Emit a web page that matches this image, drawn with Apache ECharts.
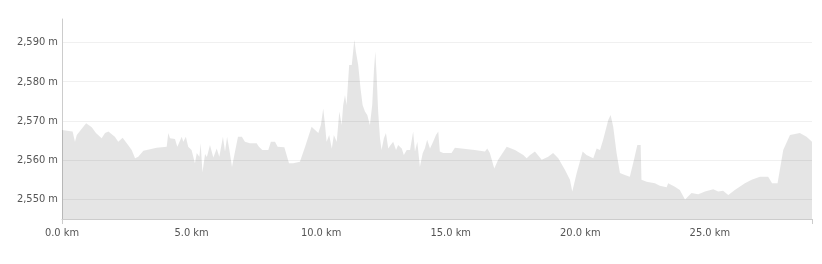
<!DOCTYPE html>
<html>
<head>
<meta charset="utf-8">
<script src="https://cdn.jsdelivr.net/npm/echarts@6/dist/echarts.min.js"></script>
<style>
html,body{margin:0;padding:0;background:#fff;}
#chart{width:822px;height:264px;}
</style>
</head>
<body>
<div id="chart"></div>
<script>
// distance along route (km)
var distanceKm = [
0.00,0.41,0.50,0.57,0.93,1.15,1.31,1.53,1.66,1.79,2.04,2.17,2.34,2.50,2.69,2.82,2.94,3.14,3.65,4.04,
4.10,4.17,4.24,4.36,4.45,4.62,4.68,4.78,4.87,5.00,5.13,5.20,5.30,5.35,5.42,5.52,5.59,5.71,5.84,5.97,
6.07,6.21,6.29,6.37,6.46,6.56,6.67,6.79,6.94,7.06,7.25,7.51,7.60,7.73,7.96,8.06,8.22,8.32,8.58,8.76,
8.92,9.18,9.38,9.63,9.70,9.89,9.99,10.08,10.15,10.21,10.31,10.41,10.49,10.60,10.70,10.79,10.85,10.92,10.98,11.08,
11.18,11.28,11.34,11.43,11.52,11.60,11.69,11.78,11.88,11.97,12.04,12.09,12.14,12.20,12.27,12.33,12.42,12.50,12.59,12.68,
12.78,12.89,12.97,13.11,13.19,13.30,13.43,13.55,13.62,13.71,13.81,13.92,14.00,14.09,14.20,14.32,14.43,14.52,14.58,14.71,
15.03,15.16,15.42,15.93,16.32,16.41,16.51,16.68,16.83,17.16,17.48,17.80,17.93,18.06,18.25,18.51,18.76,18.95,19.15,19.41,
19.60,19.69,19.86,20.09,20.24,20.50,20.63,20.76,20.88,21.08,21.17,21.27,21.40,21.53,21.72,21.91,22.07,22.20,22.33,22.36,
22.56,22.88,23.07,23.33,23.39,23.65,23.84,24.04,24.29,24.55,24.81,25.13,25.32,25.51,25.71,25.96,26.35,26.61,26.93,27.25,
27.40,27.61,27.83,28.09,28.47,28.73,28.94
];
// elevation (m)
var elevationM = [
2567.7,2567.3,2564.7,2566.4,2569.4,2568.4,2566.9,2565.6,2566.9,2567.3,2566.0,2564.7,2565.7,2564.3,2562.6,2560.5,2560.9,2562.4,2563.2,2563.4,
2566.9,2565.6,2565.2,2565.4,2563.4,2566.0,2564.7,2566.0,2563.4,2562.6,2559.2,2561.8,2560.9,2564.3,2556.9,2561.6,2560.8,2563.9,2560.7,2563.0,
2560.9,2566.0,2562.2,2566.0,2562.6,2558.3,2562.0,2566.0,2566.0,2564.7,2564.3,2564.3,2563.4,2562.6,2562.6,2564.7,2564.7,2563.4,2563.3,2559.2,
2559.2,2559.6,2563.4,2568.5,2568.5,2566.9,2569.0,2573.2,2569.0,2564.7,2566.4,2563.0,2566.4,2564.7,2572.4,2569.0,2574.1,2576.6,2574.1,2584.3,
2584.3,2590.7,2587.7,2584.3,2578.3,2574.1,2572.4,2571.5,2569.0,2574.1,2583.4,2587.7,2581.7,2572.4,2565.6,2562.6,2565.6,2566.9,2563.0,2563.9,
2564.7,2562.6,2563.9,2563.0,2561.3,2562.6,2562.6,2567.3,2562.2,2564.7,2558.3,2561.8,2563.0,2565.2,2563.0,2564.7,2566.4,2567.3,2562.2,2561.8,
2561.8,2563.2,2563.0,2562.6,2562.2,2563.0,2561.8,2557.9,2560.1,2563.4,2562.6,2561.3,2560.5,2561.3,2562.2,2560.1,2560.9,2561.8,2560.5,2557.5,
2555.0,2552.0,2556.7,2562.2,2561.3,2560.5,2563.0,2562.6,2565.2,2570.3,2571.5,2568.5,2561.8,2556.7,2556.2,2555.8,2560.1,2563.9,2563.9,2555.0,
2554.5,2554.1,2553.5,2553.1,2554.1,2553.2,2552.4,2550.0,2551.6,2551.3,2552.0,2552.6,2552.0,2552.2,2551.1,2552.4,2554.1,2555.0,2555.8,2555.8,
2554.1,2554.1,2562.6,2566.4,2566.9,2566.0,2564.7
];
var xTickLabels = [0, 5, 10, 15, 20, 25];
var yTickLabels = [2550, 2560, 2570, 2580, 2590];
var yMin = 2545, yMax = 2596;

var seriesData = distanceKm.map(function (d, i) { return [d, elevationM[i]]; });
var xMax = distanceKm[distanceKm.length - 1];
var FONT = '"Liberation Sans Narrow","DejaVu Sans Condensed","Liberation Sans",sans-serif';

var chart = echarts.init(document.getElementById('chart'), null, {renderer: 'canvas'});
chart.setOption({
  animation: false,
  backgroundColor: '#ffffff',
  grid: {left: 62, right: 10, top: 19, bottom: 45, containLabel: false},
  xAxis: {
    type: 'value',
    min: 0,
    max: xMax,
    axisLine: {show: true, lineStyle: {color: '#cccccc', width: 1}},
    axisTick: {show: true, customValues: [0, xMax], length: 5, lineStyle: {color: '#cccccc'}},
    splitLine: {show: false},
    axisLabel: {
      customValues: xTickLabels,
      color: '#555555',
      fontSize: 11,
      fontFamily: FONT,
      margin: 9,
      formatter: function (v) { return v.toFixed(1) + ' km'; }
    }
  },
  yAxis: {
    type: 'value',
    min: yMin,
    max: yMax,
    axisLine: {show: true, lineStyle: {color: '#cccccc', width: 1}},
    axisTick: {show: false},
    splitLine: {show: true, showMinLine: false, showMaxLine: false, lineStyle: {color: '#f0f0f0', width: 1}},
    axisLabel: {
      customValues: yTickLabels,
      color: '#555555',
      fontSize: 11,
      fontFamily: FONT,
      margin: 4,
      formatter: function (v) { return v.toLocaleString('en-US') + ' m'; }
    },
    minInterval: 10,
    maxInterval: 10
  },
  series: [{
    type: 'line',
    data: seriesData,
    symbol: 'none',
    smooth: false,
    lineStyle: {width: 0, color: 'rgba(0,0,0,0)'},
    areaStyle: {color: 'rgba(0,0,0,0.1)', opacity: 1, origin: 'start'},
    z: 3
  }]
});
</script>
</body>
</html>
